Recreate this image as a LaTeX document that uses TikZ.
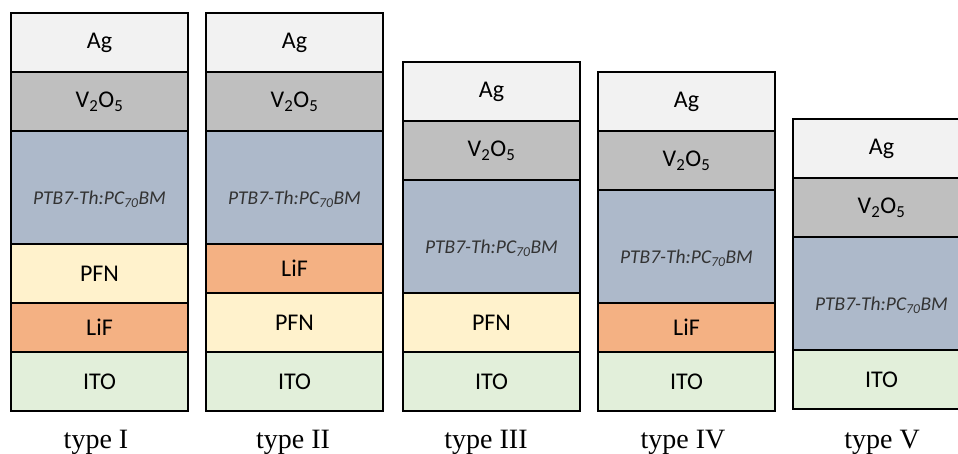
\documentclass[tikz,border=0pt]{standalone}
\usepackage{fontspec}
\setmainfont{Liberation Serif}
\newfontfamily\layerfont{Carlito}
\usepackage{xcolor}
\definecolor{silver}{HTML}{F2F2F2}
\definecolor{oxide}{HTML}{BFBFBF}
\definecolor{blend}{HTML}{ADB9CA}
\definecolor{pfn}{HTML}{FFF2CC}
\definecolor{lif}{HTML}{F4B183}
\definecolor{ito}{HTML}{E2EFDA}
\usepackage{tikz}
\usetikzlibrary{positioning}
\tikzset{
    layer/.style={draw, line width=1.8pt, minimum width=177pt,
        inner sep=0pt, outer sep=0pt,
        font={\layerfont\fontsize{24pt}{28}\selectfont}},
    agl/.style={layer, fill=silver, minimum height=59pt},
    vox/.style={layer, fill=oxide, minimum height=59pt},
    ptb/.style={layer, fill=blend, minimum height=113pt, text=black!80,
        text height=34pt, text depth=0pt,
        font={\layerfont\itshape\fontsize{19.5pt}{23}\selectfont}},
    pfnl/.style={layer, fill=pfn, minimum height=59pt},
    lifl/.style={layer, fill=lif, minimum height=49pt},
    itol/.style={layer, fill=ito, minimum height=59pt},
    typename/.style={anchor=base, font={\fontsize{28pt}{32}\selectfont}},
    }

\begin{document}
\begin{tikzpicture}
    [x=1pt, y=1pt]
    \clip (0,0) rectangle (958,453);
    % type I
    \node[itol, anchor=south west] (ito1) at (11,42) {ITO};
    \node[lifl, above=0pt of ito1] (lif1) {LiF};
    \node[pfnl, above=0pt of lif1] (pfn1) {PFN};
    \node[ptb, above=0pt of pfn1] (ptb1) {PTB7-Th:PC\textsubscript{70}BM};
    \node[vox, above=0pt of ptb1] (vox1) {V\textsubscript{2}O\textsubscript{5}};
    \node[agl, above=0pt of vox1] (ag1) {Ag};
    % type II
    \node[itol, anchor=south west] (ito2) at (206,42) {ITO};
    \node[pfnl, above=0pt of ito2] (pfn2) {PFN};
    \node[lifl, above=0pt of pfn2] (lif2) {LiF};
    \node[ptb, above=0pt of lif2] (ptb2) {PTB7-Th:PC\textsubscript{70}BM};
    \node[vox, above=0pt of ptb2] (vox2) {V\textsubscript{2}O\textsubscript{5}};
    \node[agl, above=0pt of vox2] (ag2) {Ag};
    % type III
    \node[itol, anchor=south west] (ito3) at (403,42) {ITO};
    \node[pfnl, above=0pt of ito3] (pfn3) {PFN};
    \node[ptb, above=0pt of pfn3] (ptb3) {PTB7-Th:PC\textsubscript{70}BM};
    \node[vox, above=0pt of ptb3] (vox3) {V\textsubscript{2}O\textsubscript{5}};
    \node[agl, above=0pt of vox3] (ag3) {Ag};
    % type IV
    \node[itol, anchor=south west] (ito4) at (598,42) {ITO};
    \node[lifl, above=0pt of ito4] (lif4) {LiF};
    \node[ptb, above=0pt of lif4] (ptb4) {PTB7-Th:PC\textsubscript{70}BM};
    \node[vox, above=0pt of ptb4] (vox4) {V\textsubscript{2}O\textsubscript{5}};
    \node[agl, above=0pt of vox4] (ag4) {Ag};
    % type V
    \node[itol, anchor=south west] (ito5) at (793,44) {ITO};
    \node[ptb, above=0pt of ito5] (ptb5) {PTB7-Th:PC\textsubscript{70}BM};
    \node[vox, above=0pt of ptb5] (vox5) {V\textsubscript{2}O\textsubscript{5}};
    \node[agl, above=0pt of vox5] (ag5) {Ag};
    % text
    \node[typename] (type1) at (96,5) {type I};
    \node[typename] (type2) at (293,5) {type II};
    \node[typename] (type3) at (486,5) {type III};
    \node[typename] (type4) at (683,5) {type IV};
    \node[typename] (type5) at (882,5) {type V};
    \end{tikzpicture}
\end{document}
